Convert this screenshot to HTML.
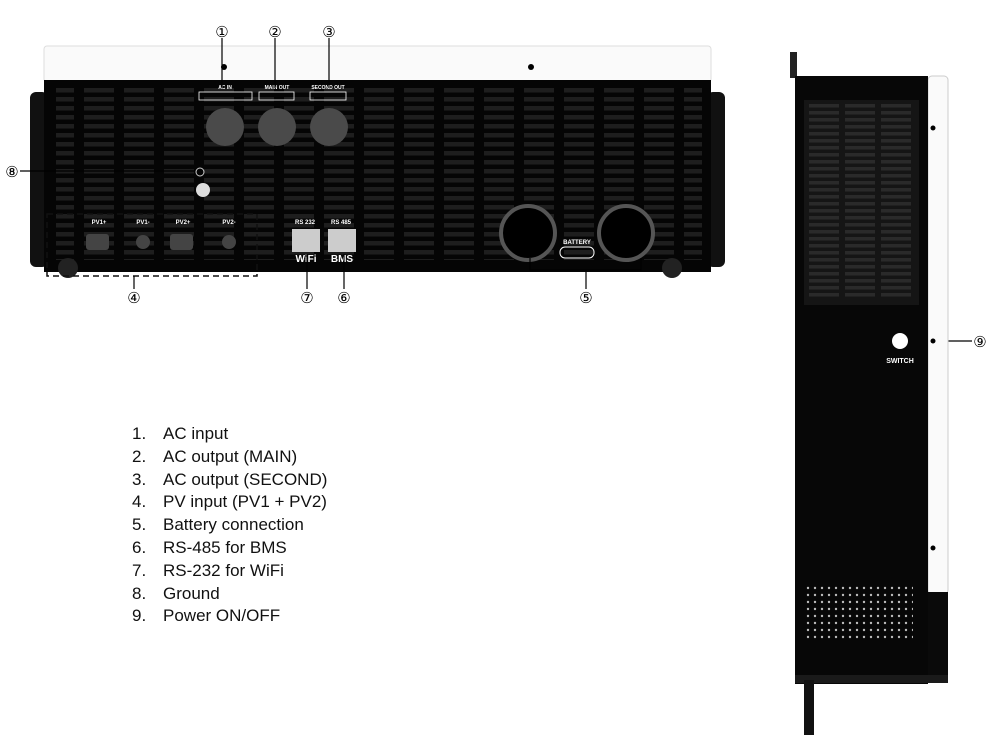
<!DOCTYPE html>
<html><head><meta charset="utf-8"><style>
body{margin:0;background:#fff;width:1000px;height:735px;overflow:hidden;font-family:"Liberation Sans",sans-serif}
svg{position:absolute;left:0;top:0}
.list{position:absolute;left:132px;top:423px;font-size:17px;line-height:22.8px;color:#111}
.list div span{display:inline-block;width:31px}
</style></head><body>
<svg width="1000" height="735" viewBox="0 0 1000 735">
<defs>
<pattern id="slots" x="0" y="88" width="40" height="9" patternUnits="userSpaceOnUse">
<rect x="4" y="0" width="30" height="4.5" fill="#1e1e1e"/></pattern>
<pattern id="vslots" x="806" y="104" width="36" height="7" patternUnits="userSpaceOnUse">
<rect x="3" y="0" width="30" height="3.5" fill="#2a2a2a"/></pattern>
<pattern id="perf" x="805" y="585" width="7" height="7" patternUnits="userSpaceOnUse">
<circle cx="3" cy="3" r="1.2" fill="#bbb"/></pattern>
</defs>
<rect x="30" y="92" width="18" height="175" rx="6" fill="#111"/>
<rect x="707" y="92" width="18" height="175" rx="6" fill="#111"/>
<rect x="44" y="46" width="667" height="36" rx="3" fill="#fafafa" stroke="#ddd"/>
<circle cx="224" cy="67" r="3" fill="#000"/><circle cx="531" cy="67" r="3" fill="#000"/>
<rect x="44" y="80" width="667" height="192" fill="#050505"/>
<rect x="56" y="88" width="646" height="172" fill="url(#slots)"/>
<circle cx="68" cy="268" r="10" fill="#222"/><circle cx="672" cy="268" r="10" fill="#222"/>
<g fill="#fff" font-size="5" font-weight="bold" text-anchor="middle">
<text x="225" y="89">AC IN</text><text x="277" y="89">MAIN OUT</text><text x="328" y="89">SECOND OUT</text></g>
<g stroke="#fff" fill="none" stroke-width="0.8"><rect x="199" y="92" width="53" height="8"/><rect x="259" y="92" width="35" height="8"/><rect x="310" y="92" width="36" height="8"/></g>
<circle cx="225" cy="127" r="19" fill="#4a4a4a"/><circle cx="277" cy="127" r="19" fill="#4a4a4a"/><circle cx="329" cy="127" r="19" fill="#4a4a4a"/>
<circle cx="200" cy="172" r="4" fill="none" stroke="#ccc"/>
<circle cx="203" cy="190" r="7" fill="#ddd"/>
<g fill="#fff" font-size="6" font-weight="bold" text-anchor="middle">
<text x="99" y="224">PV1+</text><text x="143" y="224">PV1-</text><text x="183" y="224">PV2+</text><text x="229" y="224">PV2-</text>
<text x="305" y="224">RS 232</text><text x="341" y="224">RS 485</text>
<text x="306" y="262" font-size="10">WiFi</text><text x="342" y="262" font-size="10">BMS</text>
<text x="577" y="244" font-size="6">BATTERY</text></g>
<g fill="#444"><rect x="86" y="234" width="23" height="16" rx="3"/><rect x="170" y="234" width="23" height="16" rx="3"/>
<circle cx="143" cy="242" r="7"/><circle cx="229" cy="242" r="7"/></g>
<rect x="292" y="229" width="28" height="23" fill="#ccc"/><rect x="328" y="229" width="28" height="23" fill="#ccc"/>
<rect x="560" y="247" width="34" height="11" rx="5" fill="none" stroke="#fff"/>
<rect x="47" y="214" width="210" height="62" fill="none" stroke="#111" stroke-width="1.5" stroke-dasharray="6,4"/>
<circle cx="528" cy="233" r="27" fill="#000" stroke="#555" stroke-width="4"/>
<circle cx="626" cy="233" r="27" fill="#000" stroke="#555" stroke-width="4"/>
<g stroke="#000" stroke-width="1.2" fill="none">
<line x1="222" y1="38" x2="222" y2="88"/><line x1="275" y1="38" x2="275" y2="88"/><line x1="329" y1="38" x2="329" y2="88"/>
<line x1="20" y1="171" x2="195" y2="171"/><line x1="134" y1="276" x2="134" y2="289"/>
<line x1="307" y1="254" x2="307" y2="289"/><line x1="344" y1="254" x2="344" y2="289"/>
<polyline points="530,258 530,270 641,270 641,258"/><line x1="586" y1="270" x2="586" y2="289"/>
<line x1="904" y1="341" x2="972" y2="341"/></g>
<g font-size="15" text-anchor="middle" fill="#000" font-family="Liberation Serif,serif">
<text x="222" y="37">①</text><text x="275" y="37">②</text><text x="329" y="37">③</text>
<text x="12" y="177">⑧</text><text x="134" y="303">④</text><text x="307" y="303">⑦</text><text x="344" y="303">⑥</text><text x="586" y="303">⑤</text><text x="980" y="347">⑨</text></g>
<rect x="790" y="52" width="7" height="26" fill="#222"/>
<rect x="928" y="76" width="20" height="518" rx="4" fill="#fafafa" stroke="#ccc"/>
<rect x="795" y="76" width="133" height="608" fill="#070707"/>
<rect x="928" y="592" width="20" height="90" fill="#0a0a0a"/>
<rect x="804" y="100" width="115" height="205" fill="#151515"/>
<rect x="808" y="104" width="107" height="196" fill="url(#vslots)"/>
<rect x="805" y="585" width="108" height="55" fill="url(#perf)"/>
<circle cx="933" cy="128" r="2.5" fill="#000"/><circle cx="933" cy="341" r="2.5" fill="#000"/><circle cx="933" cy="548" r="2.5" fill="#000"/>
<circle cx="900" cy="341" r="8" fill="#fff"/>
<text x="900" y="363" fill="#fff" font-size="7" font-weight="bold" text-anchor="middle">SWITCH</text>
<rect x="795" y="675" width="153" height="8" fill="#1a1a1a"/>
<rect x="804" y="680" width="10" height="55" fill="#111"/>
</svg>
<div class="list">
<div><span>1.</span>AC input</div>
<div><span>2.</span>AC output (MAIN)</div>
<div><span>3.</span>AC output (SECOND)</div>
<div><span>4.</span>PV input (PV1 + PV2)</div>
<div><span>5.</span>Battery connection</div>
<div><span>6.</span>RS-485 for BMS</div>
<div><span>7.</span>RS-232 for WiFi</div>
<div><span>8.</span>Ground</div>
<div><span>9.</span>Power ON/OFF</div>
</div>
</body></html>
